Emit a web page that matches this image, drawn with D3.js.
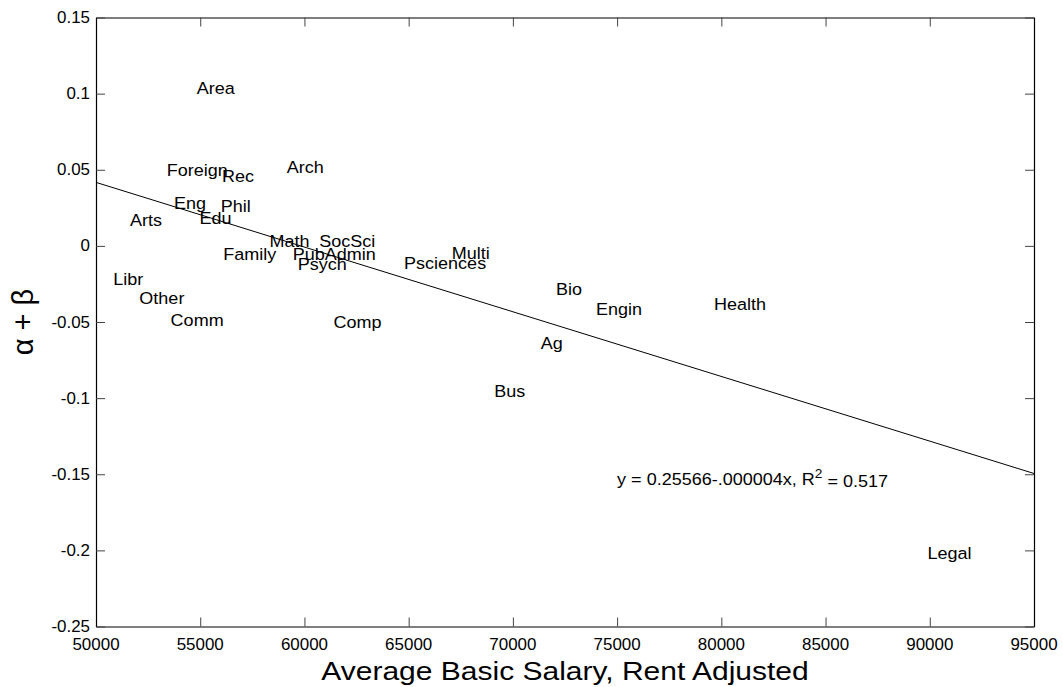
<!DOCTYPE html>
<html><head><meta charset="utf-8">
<script src="https://cdn.jsdelivr.net/npm/d3@7"></script>
<style>
html,body{margin:0;padding:0;background:#fff;}
text{font-family:"Liberation Sans",Arial,sans-serif;fill:#000;}
</style></head>
<body><svg id="c" width="1063" height="687"></svg>
<script>
// ---- data ----
const majors = ["Area","Foreign","Rec","Arch","Eng","Phil","Edu","Arts","Math","SocSci","Family","PubAdmin","Psych","Libr","Other","Comm","Comp","Multi","Psciences","Bio","Engin","Ag","Bus","Health","Legal"];
const salary = [54830,53390,56050,59150,53740,55980,54960,51630,58320,60710,56110,59440,59680,50830,52080,53580,61390,67070,64780,72070,73990,71340,69110,79650,89890];
const alphaBeta = [0.1037,0.0498,0.0459,0.052,0.0279,0.0264,0.0181,0.017,0.0034,0.0034,-0.0056,-0.0056,-0.0122,-0.022,-0.0341,-0.0488,-0.0503,-0.0049,-0.0115,-0.0284,-0.0413,-0.0641,-0.0952,-0.0382,-0.202];
const fitX = [50000,95000];
const fitY = [0.0417,-0.1495];
const xTicks = [50000,55000,60000,65000,70000,75000,80000,85000,90000,95000];
const xTickLabels = ["50000","55000","60000","65000","70000","75000","80000","85000","90000","95000"];
const yTicks = [0.15,0.1,0.05,0,-0.05,-0.1,-0.15,-0.2,-0.25];
const yTickLabels = ["0.15","0.1","0.05","0","-0.05","-0.1","-0.15","-0.2","-0.25"];
const eqPos = {x:75000, y:-0.153};
const xTitle = "Average Basic Salary, Rent Adjusted";
const yTitle = "\u03B1 + \u03B2";

// ---- layout ----
const L=96, R=1034, T=17.5, B=626.5, SX=1.06;
const svg=d3.select("#c");
const x=d3.scaleLinear().domain([50000,95000]).range([L,R]);
const y=d3.scaleLinear().domain([-0.25,0.15]).range([B,T]);

function axisStyle(g){
  g.select(".domain").attr("stroke","#000").attr("stroke-width",1.2);
  g.selectAll(".tick line").attr("stroke","#444").attr("stroke-width",1);
  g.selectAll(".tick text").remove();
}
svg.append("g").attr("transform",`translate(0,${B})`).call(d3.axisBottom(x).tickValues(xTicks).tickSize(-9).tickSizeOuter(0).tickFormat("")).call(axisStyle);
svg.append("g").attr("transform",`translate(0,${T})`).call(d3.axisTop(x).tickValues(xTicks).tickSize(-9).tickSizeOuter(0).tickFormat("")).call(axisStyle);
svg.append("g").attr("transform",`translate(${L},0)`).call(d3.axisLeft(y).tickValues(yTicks).tickSize(-9).tickSizeOuter(0).tickFormat("")).call(axisStyle);
svg.append("g").attr("transform",`translate(${R},0)`).call(d3.axisRight(y).tickValues(yTicks).tickSize(-9).tickSizeOuter(0).tickFormat("")).call(axisStyle);

// tick labels
svg.append("g").selectAll("text").data(xTicks).join("text")
  .attr("transform",d=>`translate(${x(d)},${B+23}) scale(${SX},1)`)
  .attr("text-anchor","middle").attr("font-size",16)
  .text((d,i)=>xTickLabels[i]);
svg.append("g").selectAll("text").data(yTicks).join("text")
  .attr("transform",d=>`translate(${L-6},${y(d)}) scale(${SX},1)`)
  .attr("text-anchor","end").attr("dy","0.35em").attr("font-size",16)
  .text((d,i)=>yTickLabels[i]);

// fit line
svg.append("path").datum(fitX.map((d,i)=>[d,fitY[i]]))
  .attr("d",d3.line().x(d=>x(d[0])).y(d=>y(d[1])))
  .attr("fill","none").attr("stroke","#000").attr("stroke-width",1);

// labels
svg.append("g").selectAll("text").data(majors).join("text")
  .attr("transform",(d,i)=>`translate(${x(salary[i])},${y(alphaBeta[i])}) scale(${SX},1)`)
  .attr("dy","0.35em").attr("font-size",17)
  .text(d=>d);

// equation
const eq=svg.append("text")
  .attr("transform",`translate(${x(eqPos.x)},${y(eqPos.y)}) scale(${SX},1)`)
  .attr("dy","0.35em").attr("font-size",17);
eq.append("tspan").text("y = 0.25566-.000004x, R");
eq.append("tspan").attr("dy","-0.5em").attr("font-size",13).text("2");
eq.append("tspan").attr("dy","0.5em").text(" = 0.517");

// axis titles
svg.append("text").attr("transform",`translate(${(L+R)/2},680) scale(1.2,1)`)
  .attr("text-anchor","middle").attr("font-size",25).text(xTitle);
svg.append("text").attr("transform",`translate(33,${(T+B)/2}) rotate(-90)`)
  .attr("text-anchor","middle").attr("font-size",29).text(yTitle);
</script></body></html>
